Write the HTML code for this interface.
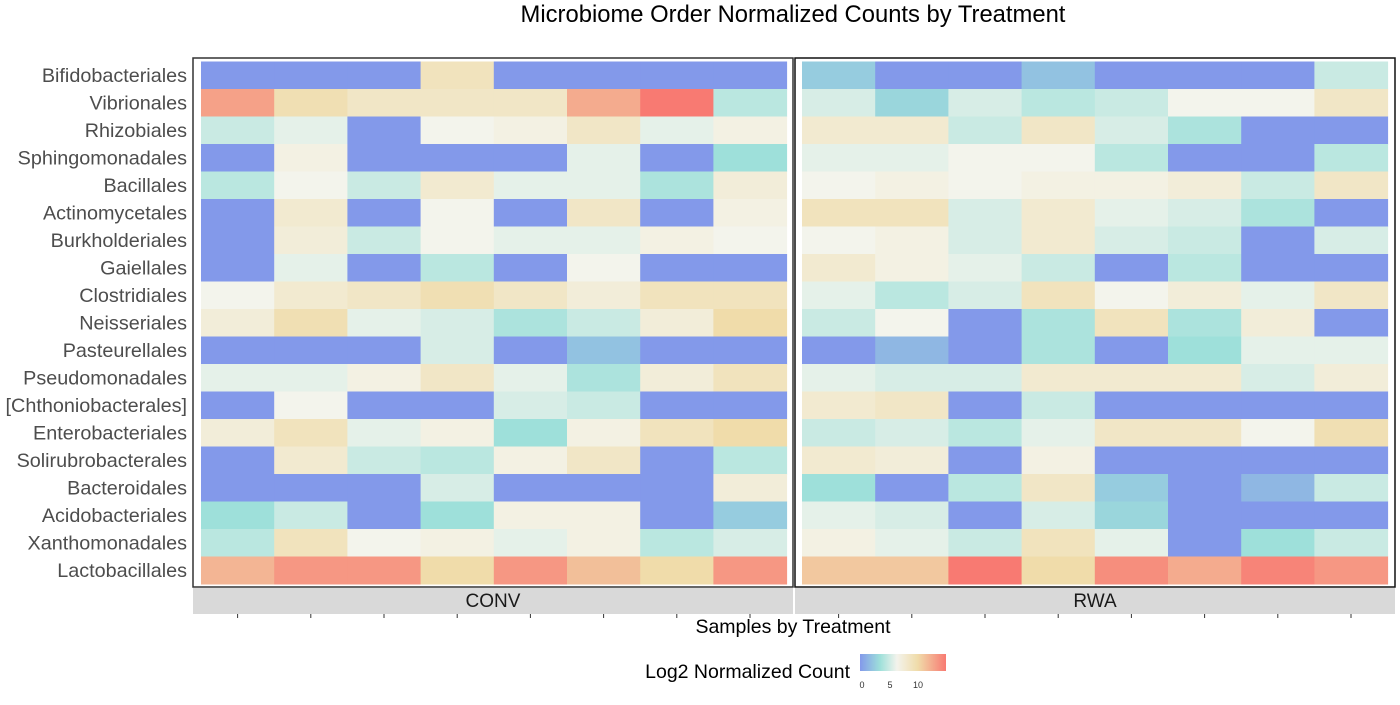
<!DOCTYPE html>
<html><head><meta charset="utf-8"><style>
body{margin:0;background:#fff;width:1400px;height:700px;overflow:hidden}
svg{font-family:"Liberation Sans",sans-serif}
</style></head><body>
<svg id="c" width="1400" height="700">
<defs><linearGradient id="lg" x1="0" x2="1" y1="0" y2="0">
<stop offset="0" stop-color="#8399ea"/><stop offset="0.233" stop-color="#9ee0da"/><stop offset="0.43" stop-color="#f3f3ec"/><stop offset="0.67" stop-color="#f0dcaa"/><stop offset="1" stop-color="#f87a72"/></linearGradient></defs>
<text x="793" y="22" font-size="23.8" text-anchor="middle">Microbiome Order Normalized Counts by Treatment</text>
<g id="cells"></g>
<rect x="193" y="58" width="600" height="529" fill="none" stroke="#333" stroke-width="1.5"/>
<rect x="795" y="58" width="600" height="529" fill="none" stroke="#111" stroke-width="1.5"/>
<rect x="193" y="588" width="600" height="26" fill="#d9d9d9"/>
<rect x="795" y="588" width="600" height="26" fill="#d9d9d9"/>
<text x="493" y="607" font-size="19" text-anchor="middle" fill="#1a1a1a">CONV</text>
<text x="1095" y="607" font-size="19" text-anchor="middle" fill="#1a1a1a">RWA</text>
<g id="ticks"></g>
<text x="793" y="633" font-size="19.5" text-anchor="middle">Samples by Treatment</text>
<text x="850" y="678" font-size="19.5" text-anchor="end">Log2 Normalized Count</text>
<rect x="860" y="654" width="86" height="17" fill="url(#lg)"/>
<text x="862" y="688" font-size="9" text-anchor="middle" fill="#333">0</text>
<text x="890" y="688" font-size="9" text-anchor="middle" fill="#333">5</text>
<text x="918" y="688" font-size="9" text-anchor="middle" fill="#333">10</text>
</svg>
<script>
const rows=["Bifidobacteriales","Vibrionales","Rhizobiales","Sphingomonadales","Bacillales","Actinomycetales","Burkholderiales","Gaiellales","Clostridiales","Neisseriales","Pasteurellales","Pseudomonadales","[Chthoniobacterales]","Enterobacteriales","Solirubrobacterales","Bacteroidales","Acidobacteriales","Xanthomonadales","Lactobacillales"];
const treatments=["CONV","RWA"];
const conv=[
[0,0,0,9,0,0,0,0],[13,9.5,8.5,8.5,8.5,12.5,15,4.5],[5,6,0,6.5,7,8.5,6,7],[0,7,0,0,0,6,0,3.5],
[4.5,6.5,5,8,6,6,4,7.5],[0,8,0,6.5,0,8.5,0,7],[0,7.5,5,6.5,6,6,7,6.5],[0,6,0,4.5,0,6.5,0,0],
[6.5,8,8.5,9.5,8.5,7.5,9,9],[7.5,9.5,6,5.5,4,5,7.5,10],[0,0,0,5.5,0,2,0,0],[6,6,7,8.5,6,4,7.5,9],
[0,6.5,0,0,5.5,5,0,0],[7.5,9,6,7,3.5,7,9,10],[0,8,5,4.5,7,8.5,0,4.5],[0,0,0,5.5,0,0,0,7.5],
[3.5,5,0,3.5,7,7,0,2.5],[4.5,9,6.5,7,6,7,4.5,5.5],[12,13.5,13.5,10,13.5,11.5,10,13.5]];
const rwa=[
[2.5,0,0,2,0,0,0,5],[5.5,3,5.5,4.5,5,6.5,6.5,8.5],[8,8,5,8.5,5.5,4,0,0],[6,6,6.5,6.5,4.5,0,0,4.5],
[6.5,7,6.5,7,7,7.5,5,8.5],[9,9,5.5,8,6,5.5,4,0],[6.5,7,5.5,8,5.5,5,0,5.5],[8,7,6,5,0,4.5,0,0],
[6,4.5,5.5,9,6.5,7.5,6,8.5],[5,6.5,0,4,9,4,7.5,0],[0,1.5,0,4,0,3.5,6,6],[6,5.5,5.5,8,8,8,5.5,7.5],
[8,8.5,0,5,0,0,0,0],[5,5.5,4.5,6,8.5,8.5,6.5,9.5],[8,7.5,0,7,0,0,0,0],[3.5,0,4.5,8.5,2.5,0,1.5,5],
[6,5.5,0,5.5,3,0,0,0],[7,6,5,9,6,0,3.5,5],[11,11,15,10,14,12.5,14.5,13.5]];
const stopsV=[0,3.5,6.5,10,15];
const stopsC=[[131,153,234],[158,224,218],[243,244,236],[240,220,170],[248,122,114]];
function color(v){v=Math.max(0,Math.min(15,v));let i=0;while(i<stopsV.length-2&&v>stopsV[i+1])i++;
const t=(v-stopsV[i])/(stopsV[i+1]-stopsV[i]);const a=stopsC[i],b=stopsC[i+1];
return `rgb(${a.map((x,k)=>Math.round(x+(b[k]-x)*t)).join(',')})`;}
const panelX=[201,802],cellW=73.2,top0=61.5,rowH=27.5;
const xs=(p,j)=>panelX[p]+j*cellW, ys=i=>top0+i*rowH;
const ns="http://www.w3.org/2000/svg";
const g=document.getElementById('cells'),svg=document.getElementById('c'),tk=document.getElementById('ticks');
[conv,rwa].forEach((m,p)=>{m.forEach((r,i)=>r.forEach((v,j)=>{
const e=document.createElementNS(ns,'rect');
e.setAttribute('x',xs(p,j));e.setAttribute('y',ys(i));e.setAttribute('width',cellW+0.5);e.setAttribute('height',rowH+0.5);
e.setAttribute('fill',color(v));


g.appendChild(e);}));
for(let j=0;j<8;j++){const l=document.createElementNS(ns,'line');const x=xs(p,j)+cellW/2;
l.setAttribute('x1',x);l.setAttribute('x2',x);l.setAttribute('y1',614);l.setAttribute('y2',618);l.setAttribute('stroke','#333');


tk.appendChild(l);}});
rows.forEach((n,i)=>{const t=document.createElementNS(ns,'text');
t.setAttribute('x',187);t.setAttribute('y',ys(i)+rowH/2+6.5);t.setAttribute('text-anchor','end');t.setAttribute('font-size','19.8');t.setAttribute('fill','#4d4d4d');
t.textContent=n;


svg.appendChild(t);});
</script>
</body></html>
